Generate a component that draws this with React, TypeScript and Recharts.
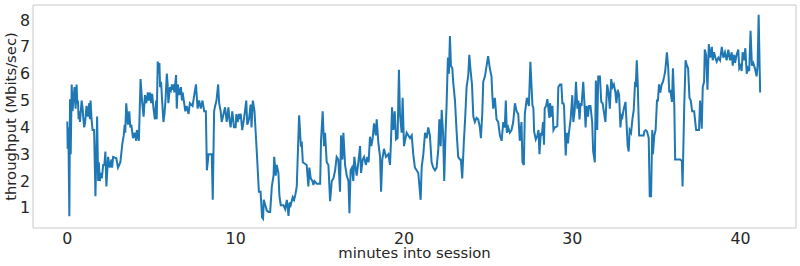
import { LineChart, Line, XAxis, YAxis } from 'recharts';

// minutes into the session
const minutes = [
  0.0, 0.02, 0.06, 0.12, 0.16, 0.2, 0.26, 0.31, 0.37, 0.43, 0.49, 0.55, 0.59, 0.63, 0.67, 0.71, 0.75, 0.85, 0.91, 0.94,
  1.0, 1.06, 1.14, 1.22, 1.3, 1.34, 1.38, 1.44, 1.5, 1.59, 1.67, 1.77, 1.83, 1.87, 1.93, 1.99, 2.05, 2.13, 2.2, 2.26,
  2.32, 2.42, 2.52, 2.62, 2.66, 2.72, 2.91, 3.01, 3.15, 3.27, 3.35, 3.41, 3.44, 3.5, 3.6, 3.68, 3.74, 3.8, 3.9, 4.0,
  4.09, 4.13, 4.25, 4.35, 4.45, 4.53, 4.61, 4.69, 4.78, 4.84, 4.92, 4.98, 5.04, 5.12, 5.2, 5.28, 5.31, 5.37, 5.45, 5.47,
  5.51, 5.57, 5.63, 5.71, 5.77, 5.83, 5.91, 5.96, 6.0, 6.1, 6.16, 6.22, 6.26, 6.3, 6.36, 6.46, 6.5, 6.57, 6.65, 6.75,
  6.81, 6.85, 7.01, 7.09, 7.2, 7.28, 7.44, 7.64, 7.74, 7.83, 7.93, 8.03, 8.13, 8.23, 8.29, 8.39, 8.58, 8.64, 8.72, 8.78,
  8.86, 8.96, 9.02, 9.11, 9.17, 9.21, 9.37, 9.47, 9.57, 9.63, 9.7, 9.8, 9.9, 10.0, 10.04, 10.12, 10.2, 10.24, 10.3, 10.39,
  10.49, 10.63, 10.69, 10.79, 10.89, 10.94, 11.02, 11.12, 11.28, 11.38, 11.48, 11.57, 11.63, 11.67,
  11.85, 11.95, 12.05, 12.15, 12.25, 12.29, 12.38, 12.44, 12.54, 12.6, 12.68, 12.84, 12.94, 13.04, 13.14, 13.2, 13.27, 13.39,
  13.47, 13.55, 13.63, 13.77, 13.87, 13.93, 13.99, 14.22, 14.32, 14.38, 14.46, 14.56, 14.62, 14.68, 14.82, 15.02, 15.07, 15.17,
  15.25, 15.31, 15.41, 15.51, 15.61, 15.71, 15.81, 15.91, 16.0, 16.1, 16.2, 16.26, 16.34, 16.4, 16.5, 16.6, 16.7, 16.76,
  16.83, 16.91, 16.99, 17.05, 17.19, 17.29, 17.39, 17.45, 17.55, 17.63, 17.74, 17.82, 17.9, 17.98, 18.06, 18.14, 18.22, 18.32,
  18.38, 18.48, 18.58, 18.64, 18.71, 18.81, 18.93, 19.07, 19.17, 19.23, 19.29, 19.37, 19.45, 19.53, 19.62, 19.7, 19.76, 19.86,
  19.92, 20.0, 20.06, 20.16, 20.26, 20.36, 20.46, 20.55, 20.65, 20.75, 20.85, 20.99, 21.05, 21.15, 21.25, 21.35, 21.44, 21.54,
  21.64, 21.74, 21.84, 21.94, 22.04, 22.1, 22.18, 22.24, 22.33, 22.39, 22.47, 22.53, 22.61, 22.67, 22.73, 22.79, 22.87, 22.93,
  23.03, 23.13, 23.22, 23.32, 23.38, 23.46, 23.56, 23.64, 23.72, 23.82, 23.88, 23.96, 24.04, 24.12, 24.21, 24.31, 24.41, 24.51,
  24.57, 24.65, 24.71, 24.81, 24.91, 25.0, 25.1, 25.2, 25.24, 25.3, 25.4, 25.5, 25.6, 25.7, 25.8, 25.9, 25.99, 26.05,
  26.11, 26.19, 26.29, 26.39, 26.49, 26.59, 26.69, 26.79, 26.88, 26.98, 27.04, 27.12, 27.18, 27.3, 27.42, 27.51,
  27.63, 27.69, 27.73, 27.83, 27.93, 27.99, 28.05, 28.13, 28.19, 28.26, 28.32, 28.36, 28.44, 28.52, 28.58, 28.64, 28.68, 28.76,
  28.82, 28.88, 28.96, 29.01, 29.11, 29.17, 29.27, 29.35, 29.41, 29.47, 29.51, 29.57, 29.61, 29.67, 29.74, 29.8, 29.9, 30.0,
  30.06, 30.14, 30.22, 30.3, 30.36, 30.43, 30.49, 30.55, 30.65, 30.73, 30.79, 30.85, 30.93, 30.99, 31.08, 31.18, 31.24, 31.34,
  31.4, 31.48, 31.54, 31.64, 31.72, 31.8, 31.87, 31.97, 32.07, 32.15, 32.23, 32.31, 32.39, 32.47, 32.56, 32.62, 32.7, 32.78,
  32.86, 32.92, 32.98, 33.06, 33.16, 33.22, 33.29, 33.35, 33.41, 33.49, 33.57, 33.65, 33.73, 33.77, 33.83, 33.89, 33.93, 33.97,
  34.04, 34.14, 34.24, 34.28, 34.36, 34.44, 34.54, 34.6, 34.68, 34.75, 34.79, 34.87, 34.95, 35.03, 35.09, 35.15, 35.23, 35.31,
  35.39, 35.46, 35.52, 35.62, 35.7, 35.76, 35.82, 35.92, 35.98, 36.06, 36.11, 36.21, 36.31, 36.41, 36.51, 36.55, 36.65, 36.73,
  36.81, 36.88, 36.96, 37.04, 37.12, 37.24, 37.32, 37.36, 37.44, 37.53, 37.59, 37.65, 37.69, 37.75, 37.83, 37.87, 37.95, 38.03,
  38.11, 38.19, 38.29, 38.34, 38.42, 38.5, 38.58, 38.68, 38.78, 38.88, 38.97, 39.07, 39.17, 39.27, 39.37, 39.47, 39.53, 39.61,
  39.67, 39.76, 39.86, 39.92, 40.0, 40.06, 40.12, 40.2, 40.28, 40.36, 40.43, 40.51, 40.59, 40.67, 40.75, 40.85, 40.95, 41.01,
  41.07, 41.16,
];

// throughput in Mbits/sec at each of those minutes
const throughput = [
  4.22, 3.2, 4.0, 0.69, 5.05, 3.0, 5.6, 4.6, 5.1, 5.5, 4.7, 5.6, 4.9, 5.0, 4.3, 4.6, 4.2, 5.0, 4.7, 4.4,
  4.0, 4.2, 4.8, 4.4, 4.9, 4.3, 5.0, 4.3, 3.9, 3.9, 1.43, 4.4, 2.0, 2.7, 2.0, 2.3, 2.1, 2.6, 2.6, 3.1,
  1.8, 2.9, 2.5, 2.8, 2.5, 2.9, 2.85, 2.5, 2.7, 3.4, 3.7, 4.1, 3.8, 4.9, 4.1, 4.6, 4.0, 4.1, 3.6, 3.8,
  3.5, 3.9, 3.5, 5.8, 4.9, 4.4, 5.2, 4.9, 5.3, 5.0, 5.3, 4.9, 5.25, 4.7, 4.3, 5.0, 4.3, 6.45, 6.0, 6.4,
  5.5, 5.7, 5.0, 4.2, 4.5, 5.0, 6.0, 5.6, 4.9, 5.5, 5.4, 5.6, 5.4, 5.6, 5.3, 5.95, 4.7, 5.6, 5.2, 5.5,
  5.0, 5.3, 4.6, 4.8, 4.5, 4.9, 4.8, 5.6, 4.7, 5.0, 4.7, 5.0, 4.6, 4.6, 2.4, 3.0, 3.0, 1.3, 4.6, 4.8,
  5.0, 5.6, 4.9, 4.6, 4.2, 4.3, 4.75, 4.2, 4.75, 4.3, 4.0, 4.6, 4.0, 4.0, 4.5, 4.2, 4.5, 4.4, 4.5, 3.9,
  4.3, 5.0, 4.1, 4.3, 4.85, 4.0, 5.0, 4.6, 2.8, 1.6, 1.6, 0.65, 0.6, 1.3,
  0.9, 0.85, 0.85, 1.8, 2.2, 2.9, 2.2, 2.6, 2.3, 1.45, 1.1, 1.1, 0.95, 1.3, 0.7, 1.2, 1.1, 1.4,
  1.3, 1.5, 1.8, 4.45, 3.35, 3.4, 2.7, 2.6, 1.8, 2.5, 2.1, 2.0, 1.85, 2.0, 1.9, 1.9, 3.5, 4.6,
  3.3, 3.8, 2.7, 2.6, 1.25, 2.0, 2.1, 2.4, 2.9, 2.8, 1.6, 3.7, 2.8, 3.8, 2.6, 2.2, 2.0, 0.8,
  2.4, 2.5, 2.0, 2.9, 2.2, 2.7, 3.3, 2.3, 2.8, 2.9, 2.6, 2.9, 2.7, 3.65, 3.3, 3.6, 4.15, 3.7,
  4.3, 3.4, 2.9, 1.6, 2.8, 3.2, 2.9, 3.0, 2.6, 3.5, 4.75, 3.9, 4.6, 3.55, 3.6, 6.15, 4.5, 3.8,
  5.1, 3.3, 3.5, 3.8, 3.7, 3.6, 3.7, 3.0, 2.5, 2.4, 2.3, 1.3, 2.5, 3.0, 3.8, 3.6, 4.0, 3.7,
  2.7, 2.5, 2.4, 2.5, 3.2, 4.3, 3.3, 4.65, 3.7, 2.0, 3.8, 4.8, 6.6, 6.0, 7.4, 6.3, 6.2, 5.65,
  5.0, 3.8, 2.9, 2.8, 2.8, 2.1, 3.5, 4.4, 5.5, 5.95, 6.7, 6.1, 5.6, 4.4, 4.2, 4.35, 4.3, 4.0,
  3.6, 4.5, 5.7, 5.9, 6.3, 6.65, 6.2, 5.9, 5.3, 4.7, 5.1, 4.3, 4.2, 3.7, 3.5, 4.2, 4.0, 5.0,
  3.8, 4.0, 3.8, 3.9, 4.2, 4.9, 4.6, 4.5, 3.5, 4.2, 2.7, 2.6, 4.5, 5.1, 4.8, 6.44,
  4.84, 4.7, 3.85, 3.55, 3.7, 3.9, 3.0, 3.8, 3.7, 4.2, 3.35, 4.7, 4.8, 5.05, 4.7, 4.35, 4.9, 4.4,
  4.8, 3.9, 4.0, 4.0, 4.05, 5.5, 5.6, 5.6, 4.9, 4.9, 4.8, 3.65, 2.95, 3.8, 3.4, 3.8, 4.3, 5.2,
  4.2, 4.6, 5.7, 4.7, 5.0, 4.3, 4.9, 4.8, 5.7, 4.8, 4.0, 4.8, 4.4, 4.8, 4.8, 4.2, 3.1, 2.7,
  5.75, 3.9, 5.9, 5.9, 4.95, 4.9, 4.6, 4.2, 5.6, 5.3, 4.7, 5.8, 5.5, 5.6, 5.3, 4.9, 5.4, 5.2,
  4.0, 4.5, 4.4, 4.7, 4.95, 4.2, 3.3, 3.1, 3.9, 3.8, 4.3, 4.65, 5.7, 5.5, 6.5, 5.6, 4.6, 3.7,
  3.7, 3.7, 3.7, 3.85, 3.9, 3.85, 3.6, 1.43, 1.43, 3.9, 3.0, 3.7, 3.9, 5.0, 5.0, 5.6, 5.3, 5.6,
  5.7, 5.9, 6.1, 6.8, 6.2, 5.3, 5.4, 4.95, 6.2, 4.8, 2.8, 2.8, 2.8, 2.8, 2.75, 1.8, 4.8, 6.5,
  6.3, 6.2, 5.1, 5.0, 4.6, 4.6, 4.1, 3.9, 3.9, 3.9, 5.0, 4.5, 3.95, 5.5, 5.7, 6.9, 6.7, 5.4,
  7.1, 6.6, 7.0, 6.5, 6.8, 6.6, 6.45, 6.6, 6.5, 7.0, 6.6, 6.8, 6.5, 6.9, 6.5, 6.8, 6.3, 6.7,
  6.4, 6.7, 6.9, 6.2, 6.3, 6.1, 6.8, 6.5, 6.95, 6.0, 6.2, 6.1, 7.6, 6.3, 6.4, 6.2, 5.9, 6.3,
  8.2, 5.3,
];

const xTicks = [0, 10, 20, 30, 40];
const yTicks = [1, 2, 3, 4, 5, 6, 7, 8];
const xDomain = [-2.04, 43.29];
const yDomain = [0.25, 8.56];

const rows = minutes.map((minute, i) => ({ minute, mbps: throughput[i] }));

const font = '"DejaVu Sans", sans-serif';
const spine = '#c8c8c8';
const ink = '#262626';

const renderXTitle = (props: any) => {
  const { x, y, width, height } = props.viewBox;
  return (
    <text x={x + width / 2} y={y + height - 7.7} textAnchor="middle" fill={ink} fontSize={14.8} fontFamily={font}>
      minutes into session
    </text>
  );
};

const renderYTitle = (props: any) => {
  const { x, y, height } = props.viewBox;
  const cx = x + 15.5;
  const cy = y + height / 2;
  return (
    <text x={cx} y={cy} transform={`rotate(-90 ${cx} ${cy})`} textAnchor="middle" fill={ink} fontSize={14.8} fontFamily={font}>
      throughput (Mbits/sec)
    </text>
  );
};

export default function App() {
  const tick = { fill: ink, fontSize: 15.8, fontFamily: font };
  return (
    <div style={{ position: 'absolute', left: 0, top: 0, width: 800, height: 266, background: '#fff' }}>
      <LineChart width={800} height={266} data={rows} margin={{ top: 4, right: 3, left: 0, bottom: 0 }}>
        <XAxis
          dataKey="minute"
          type="number"
          domain={xDomain}
          ticks={xTicks}
          allowDataOverflow
          height={38}
          tickSize={0}
          tickMargin={4.3}
          tickLine={false}
          axisLine={{ stroke: spine }}
          tick={tick}
          label={renderXTitle}
        />
        {/* top spine */}
        <XAxis
          xAxisId="top"
          orientation="top"
          type="number"
          domain={xDomain}
          ticks={[]}
          height={1}
          tick={false}
          tickLine={false}
          axisLine={{ stroke: spine }}
        />
        <YAxis
          type="number"
          domain={yDomain}
          ticks={yTicks}
          allowDataOverflow
          width={33}
          tickSize={0}
          tickMargin={3}
          tickLine={false}
          axisLine={{ stroke: spine }}
          tick={tick}
          label={renderYTitle}
        />
        {/* right spine */}
        <YAxis
          yAxisId="right"
          orientation="right"
          type="number"
          domain={yDomain}
          ticks={[]}
          width={1}
          tick={false}
          tickLine={false}
          axisLine={{ stroke: spine }}
        />
        <Line
          type="linear"
          dataKey="mbps"
          stroke="#1f77b4"
          strokeWidth={2}
          dot={false}
          isAnimationActive={false}
        />
      </LineChart>
    </div>
  );
}
